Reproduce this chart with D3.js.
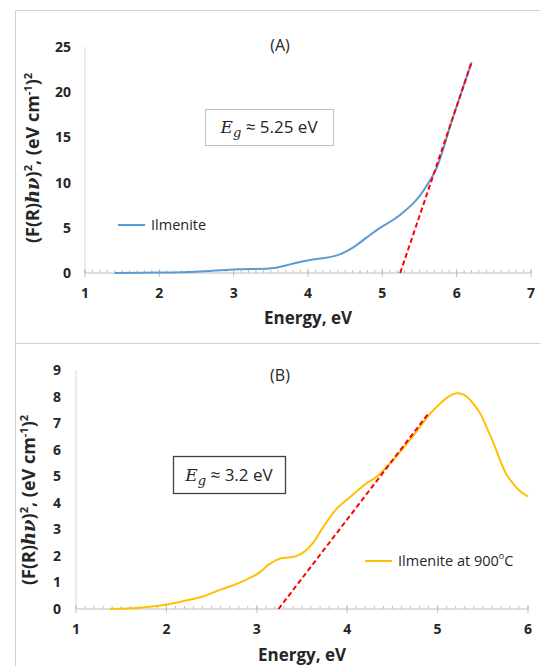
<!DOCTYPE html>
<html lang="en">
<head>
  <meta charset="UTF-8">
  <title>Ilmenite band gap</title>
  <style>
    body { margin: 0; background: #fff; }
    svg { display: block; }
    .tick-label { font-family: "Open Sans", sans-serif; font-weight: bold; font-size: 14px; fill: #262626; }
    .axis-title { font-family: "Open Sans", sans-serif; font-weight: bold; font-size: 17px; fill: #262626; }
  </style>
</head>
<body>
<div class="chart"></div>
<script src="https://d3js.org/d3.v7.min.js"></script>
<script>
  // panel A : Ilmenite
  let aEnergy = [1.40, 2.0, 2.5, 3.0, 3.55, 3.78, 4.01, 4.39, 4.62, 4.80, 4.99, 5.17, 5.31, 5.47, 5.63, 5.73, 5.95, 6.2]
  let aValue = [0, 0.05, 0.15, 0.4, 0.55, 1.0, 1.4, 1.95, 2.9, 4.0, 5.1, 6.0, 6.9, 8.2, 10.1, 11.6, 17.2, 23.3]
  let aFit = [[5.24, 0], [6.20, 23.3]]
  let aXTicks = [1, 2, 3, 4, 5, 6, 7]
  let aYTicks = [0, 5, 10, 15, 20, 25]

  // panel B : Ilmenite at 900 C
  let bEnergy = [1.38, 1.68, 1.99, 2.18, 2.41, 2.60, 2.75, 2.88, 3.02, 3.13, 3.24, 3.34, 3.43, 3.53, 3.62, 3.74, 3.89, 4.04, 4.19, 4.35, 4.58, 4.75, 4.92, 5.03, 5.12, 5.21, 5.30, 5.36, 5.47, 5.54, 5.62, 5.69, 5.76, 5.84, 5.91, 6.0]
  let bValue = [0, 0.04, 0.16, 0.29, 0.48, 0.73, 0.91, 1.10, 1.35, 1.67, 1.88, 1.94, 1.98, 2.17, 2.48, 3.11, 3.80, 4.24, 4.67, 5.05, 5.90, 6.60, 7.37, 7.74, 8.00, 8.12, 8.05, 7.87, 7.37, 6.86, 6.24, 5.61, 5.08, 4.70, 4.44, 4.23]
  let bFit = [[3.24, 0], [4.90, 7.37]]
  let bXTicks = [1, 2, 3, 4, 5, 6]
  let bYTicks = [0, 1, 2, 3, 4, 5, 6, 7, 8, 9]

  let svg = d3.select('.chart').append('svg')
    .attr('width', 540)
    .attr('height', 666)

  // outer frames
  svg.append('rect').attr('x', 15.5).attr('y', 10.5).attr('width', 540).attr('height', 333)
    .attr('fill', 'none').attr('stroke', '#d0d0d0')
  svg.append('rect').attr('x', 15.5).attr('y', 343.5).attr('width', 540).attr('height', 340)
    .attr('fill', 'none').attr('stroke', '#d0d0d0')

  function panel(o) {
    let x = d3.scaleLinear().domain(o.xDomain).range(o.xRange)
    let y = d3.scaleLinear().domain(o.yDomain).range(o.yRange)
    let g = svg.append('g')

    // y axis line
    g.append('line')
      .attr('x1', x(o.xDomain[0])).attr('x2', x(o.xDomain[0]))
      .attr('y1', y(0)).attr('y2', y(o.yDomain[1]))
      .attr('stroke', '#d9d9d9').attr('stroke-width', 1)

    // x axis with minor ticks
    g.append('line')
      .attr('x1', x(o.xDomain[0])).attr('x2', x(o.xDomain[1]))
      .attr('y1', y(0)).attr('y2', y(0))
      .attr('stroke', '#bfbfbf').attr('stroke-width', 1)
    let minor = d3.range(Math.round((o.xDomain[1] - o.xDomain[0]) * 10) + 1).map(i => o.xDomain[0] + i / 10)
    g.selectAll('.minor').data(minor).enter().append('line')
      .attr('x1', d => x(d)).attr('x2', d => x(d))
      .attr('y1', y(0) - 3).attr('y2', y(0))
      .attr('stroke', '#bfbfbf')
    g.selectAll('.major').data(o.xTicks).enter().append('line')
      .attr('x1', d => x(d)).attr('x2', d => x(d))
      .attr('y1', y(0) - 4).attr('y2', y(0) + 4)
      .attr('stroke', '#bfbfbf')

    g.selectAll('.xl').data(o.xTicks).enter().append('text')
      .attr('class', 'tick-label')
      .attr('x', d => x(d)).attr('y', y(0) + 25)
      .attr('text-anchor', 'middle')
      .text(d => d)
    g.selectAll('.yl').data(o.yTicks).enter().append('text')
      .attr('class', 'tick-label')
      .attr('x', o.yLabelX).attr('y', d => y(d) + 5)
      .attr('text-anchor', 'end')
      .text(d => d)

    // titles
    g.append('text').attr('class', 'axis-title')
      .attr('x', o.xTitle[0]).attr('y', o.xTitle[1])
      .attr('text-anchor', 'middle').text('Energy, eV')

    let yt = g.append('text').attr('class', 'axis-title')
      .style('font-size', '18px')
      .attr('text-anchor', 'middle')
      .attr('transform', 'translate(' + o.yTitle[0] + ',' + o.yTitle[1] + ') rotate(-90)')
    yt.append('tspan').text('(F(R)')
    yt.append('tspan').attr('font-family', 'DejaVu Serif').attr('font-style', 'italic').text('hν')
    yt.append('tspan').text(')')
    yt.append('tspan').style('font-size', '11px').attr('dy', -7).text('2')
    yt.append('tspan').attr('dy', 7).text(', (eV cm')
    yt.append('tspan').style('font-size', '11px').attr('dy', -7).text('-1')
    yt.append('tspan').attr('dy', 7).text(')')
    yt.append('tspan').style('font-size', '11px').attr('dy', -7).text('2')

    g.append('text')
      .attr('x', o.title[0]).attr('y', o.title[1])
      .attr('text-anchor', 'middle')
      .attr('font-family', 'Open Sans, sans-serif').attr('font-size', '16px').attr('fill', '#262626')
      .text(o.titleText)

    // curve
    let pts = o.energy.map((e, i) => [e, o.value[i]])
    let line = d3.line().x(d => x(d[0])).y(d => y(d[1])).curve(d3.curveCatmullRom.alpha(0.5))
    g.append('path').attr('d', line(pts))
      .attr('fill', 'none').attr('stroke', o.color).attr('stroke-width', 2)

    // fit line
    g.append('path').attr('d', d3.line().x(d => x(d[0])).y(d => y(d[1]))(o.fit))
      .attr('fill', 'none').attr('stroke', '#ff0000').attr('stroke-width', 2)
      .attr('stroke-dasharray', '5,3')

    // Eg box
    let b = o.box
    g.append('rect').attr('x', b[0] + 0.5).attr('y', b[1] + 0.5).attr('width', b[2]).attr('height', b[3])
      .attr('fill', '#fff').attr('stroke', o.boxStroke).attr('stroke-width', o.boxWidth)
    let et = g.append('text')
      .attr('x', b[0] + b[2] / 2).attr('y', b[1] + b[3] / 2 + 6)
      .attr('text-anchor', 'middle')
      .attr('font-family', 'Open Sans, sans-serif').attr('font-size', '17px').attr('fill', '#262626')
    et.append('tspan').attr('font-family', 'DejaVu Serif').attr('font-style', 'italic').text('E')
    et.append('tspan').attr('font-family', 'DejaVu Serif').attr('font-style', 'italic')
      .attr('font-size', '13px').attr('dy', 4).text('g')
    et.append('tspan').attr('dy', -4).text(' ≈ ' + o.eg + ' eV')

    // legend
    let l = o.legend
    g.append('line').attr('x1', l[0]).attr('x2', l[0] + 27).attr('y1', l[1]).attr('y2', l[1])
      .attr('stroke', o.color).attr('stroke-width', 2)
    let lt = g.append('text')
      .attr('x', l[0] + 33).attr('y', l[1] + 5)
      .attr('font-family', 'Open Sans, sans-serif').attr('font-size', '14.5px').attr('fill', '#262626')
    lt.append('tspan').text(o.legendText)
    if (o.legendDeg) {
      lt.append('tspan').attr('font-size', '9px').attr('dy', -7).text('o')
      lt.append('tspan').attr('dy', 7).text('C')
    }
  }

  panel({
    energy: aEnergy, value: aValue, fit: aFit, xTicks: aXTicks, yTicks: aYTicks,
    xDomain: [1, 7], yDomain: [0, 25], xRange: [85, 531], yRange: [273, 47],
    yLabelX: 71, xTitle: [308, 324], yTitle: [39, 158], title: [280, 51], titleText: '(A)',
    color: '#5b9bd5', box: [205, 109, 128, 36], boxStroke: '#bfbfbf', boxWidth: 1, eg: '5.25',
    legend: [118, 225], legendText: 'Ilmenite', legendDeg: false
  })

  panel({
    energy: bEnergy, value: bValue, fit: bFit, xTicks: bXTicks, yTicks: bYTicks,
    xDomain: [1, 6], yDomain: [0, 9], xRange: [76, 528], yRange: [609, 370],
    yLabelX: 61, xTitle: [302, 661], yTitle: [35, 500], title: [280, 381], titleText: '(B)',
    color: '#ffc000', box: [173, 456, 112, 37], boxStroke: '#404040', boxWidth: 1.3, eg: '3.2',
    legend: [365, 561], legendText: 'Ilmenite at 900', legendDeg: true
  })
</script>
</body>
</html>
